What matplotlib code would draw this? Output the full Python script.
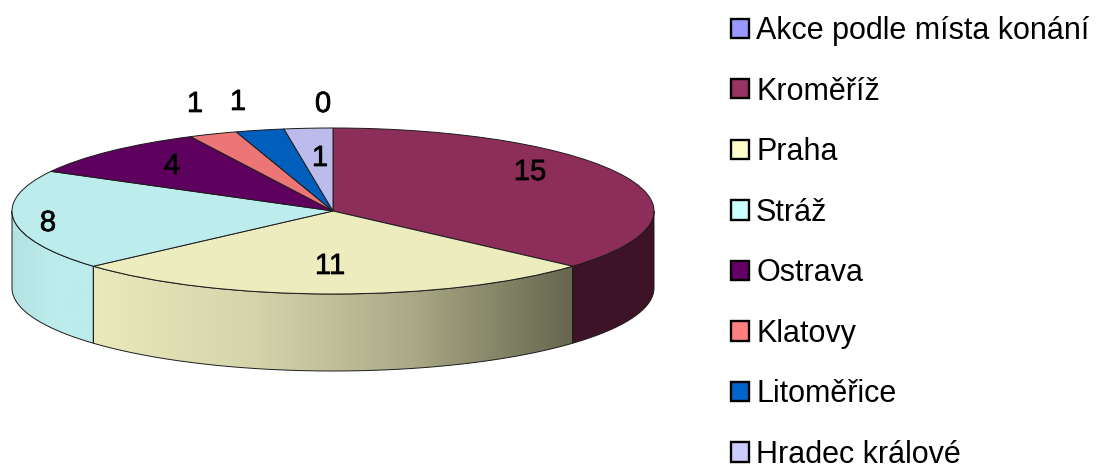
import numpy as np
import matplotlib
matplotlib.use("Agg")
import matplotlib.pyplot as plt
import matplotlib.patheffects as pe
from matplotlib.patches import Patch, Polygon
from matplotlib.colors import LinearSegmentedColormap

places = ["Akce podle místa konání", "Kroměříž", "Praha", "Stráž",
          "Ostrava", "Klatovy", "Litoměřice", "Hradec králové"]
events = [0, 15, 11, 8, 4, 1, 1, 1]
value_labels = ["0", "15", "11", "8", "4", "1", "1", "1"]
legend_colors = ["#9999FF", "#993366", "#FFFFCC", "#CCFFFF",
                 "#660066", "#FF8080", "#0066CC", "#CCCCFF"]
top_colors = ["#8F8FEC", "#8C2D5A", "#ECECBE", "#BCECEC",
              "#5E005E", "#EC7676", "#005EBC", "#BCBCEC"]
# wall shading, left to right, per slice
wall_ramps = {1: ["#401428", "#3E1226"],
              2: ["#E9E9BC", "#D5D5AC", "#A9A986", "#66664E"],
              3: ["#B2E2E2", "#BCECEC", "#BCECEC"]}
label_px = [(323, 104), (530, 172), (330, 266), (48, 223),
            (172, 166), (195, 104), (238, 102), (320, 158)]

W, H = 1109, 470
CX, CY, RX, RY, DEPTH = 333, 211, 321, 83, 77
plt.rcParams["font.family"] = ["Liberation Sans", "DejaVu Sans"]

fig = plt.figure(figsize=(W / 100, H / 100), dpi=100, facecolor="white")
ax = fig.add_axes([0, 0, 1, 1])
EDGE = "#1c1c1c"
depth = DEPTH / RY

# Top face: the library's pie, squashed by the axes scale.
wedges, _ = ax.pie(events, colors=top_colors, startangle=90, counterclock=False,
                   radius=1, center=(0, 0),
                   wedgeprops=dict(edgecolor=EDGE, linewidth=0.7, zorder=3))
ax.set_aspect("auto")
ax.set_xlim(-CX / RX, (W - CX) / RX)
ax.set_ylim(-(H - CY) / RY, CY / RY)

# Side wall: visible lower half of the rim.
cum = np.cumsum([0] + events) / sum(events) * 360
for i, ramp in wall_ramps.items():
    a0, a1 = max(cum[i], 90), min(cum[i + 1], 270)
    t = np.radians(np.linspace(a0, a1, 120))
    x, y = np.sin(t), np.cos(t)
    pts = np.r_[np.c_[x, y], np.c_[x[::-1], y[::-1] - depth]]
    poly = Polygon(pts, closed=True, facecolor="none", edgecolor=EDGE,
                   linewidth=0.7, zorder=2)
    ax.add_patch(poly)
    cmap = LinearSegmentedColormap.from_list(f"w{i}", ramp)
    im = ax.imshow(np.linspace(0, 1, 256)[None, :], cmap=cmap, aspect="auto",
                   extent=(x.min(), x.max(), y.min() - depth, y.max()), zorder=1)
    im.set_clip_path(poly)
ax.set_xlim(-CX / RX, (W - CX) / RX)
ax.set_ylim(-(H - CY) / RY, CY / RY)

# Value labels
heavy = [pe.withStroke(linewidth=0.5, foreground="black")]
for txt, (px, py) in zip(value_labels, label_px):
    ax.text((px - CX) / RX, (CY - py) / RY, txt, ha="center", va="center",
            fontsize=21, color="black", zorder=5, path_effects=heavy)

handles = [Patch(facecolor=c, edgecolor="black", linewidth=1.7) for c in legend_colors]
fig.legend(handles, places, loc="upper left", bbox_to_anchor=(731 / W, 1 - 16 / H),
           frameon=False, fontsize=22, borderpad=0, borderaxespad=0,
           handlelength=0.6, handleheight=0.6, handletextpad=0.22,
           labelspacing=1.0)
fig.savefig("out.png", dpi=100, facecolor="white")
